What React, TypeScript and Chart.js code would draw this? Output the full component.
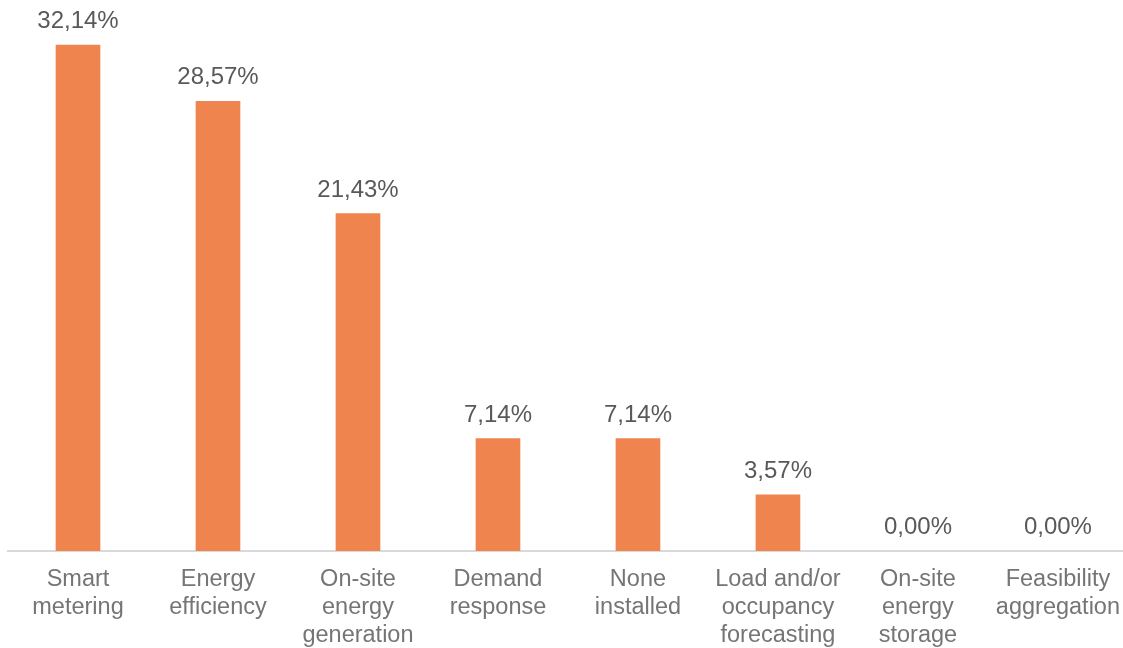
import React, { useEffect, useRef } from "react";
import { Chart, registerables } from "chart.js";

Chart.register(...registerables);

const categories: string[][] = [
  ["Smart", "metering"],
  ["Energy", "efficiency"],
  ["On-site", "energy", "generation"],
  ["Demand", "response"],
  ["None", "installed"],
  ["Load and/or", "occupancy", "forecasting"],
  ["On-site", "energy", "storage"],
  ["Feasibility", "aggregation"],
];
const values: number[] = [32.14, 28.57, 21.43, 7.14, 7.14, 3.57, 0, 0];
const valueLabels: string[] = ["32,14%", "28,57%", "21,43%", "7,14%", "7,14%", "3,57%", "0,00%", "0,00%"];

const BAR_COLOR = "#F0844F";
const FONT = "'Liberation Sans', Arial, sans-serif";

const valueLabelPlugin = {
  id: "valueLabels",
  afterDatasetsDraw(chart: any) {
    const ctx = chart.ctx;
    const meta = chart.getDatasetMeta(0);
    ctx.save();
    ctx.font = `24px ${FONT}`;
    ctx.fillStyle = "#595959";
    ctx.textAlign = "center";
    ctx.textBaseline = "alphabetic";
    meta.data.forEach((bar: any, i: number) => {
      ctx.fillText(valueLabels[i], bar.x, bar.y - 17);
    });
    ctx.restore();
  },
};

export default function App() {
  const ref = useRef<HTMLCanvasElement>(null);
  useEffect(() => {
    if (!ref.current) return;
    const chart = new Chart(ref.current, {
      type: "bar",
      data: {
        labels: categories,
        datasets: [
          {
            data: values,
            backgroundColor: values.map((v) => (v > 0 ? BAR_COLOR : "rgba(0,0,0,0)")),
            borderWidth: 0,
            barThickness: 44,
          },
        ],
      },
      options: {
        responsive: false,
        animation: false,
        layout: { padding: { left: 8, right: 0, top: 0, bottom: 9 } },
        plugins: {
          legend: { display: false },
          tooltip: { enabled: false },
        },
        scales: {
          x: {
            grid: { display: false, drawTicks: false },
            border: { display: true, color: "#D9D9D9", width: 2 },
            ticks: {
              color: "#757575",
              font: { family: FONT, size: 23.5, lineHeight: 28 / 23.5 },
              padding: 15,
              maxRotation: 0,
              autoSkip: false,
            },
          },
          y: {
            display: false,
            min: 0,
            max: 35,
          },
        },
      },
      plugins: [valueLabelPlugin],
    });
    return () => chart.destroy();
  }, []);
  return (
    <div style={{ position: "fixed", left: 0, top: 0, width: 1123, height: 648, overflow: "hidden", background: "#fff" }}>
      <canvas ref={ref} width={1135} height={674} style={{ display: "block", width: 1135, height: 674 }} />
    </div>
  );
}
